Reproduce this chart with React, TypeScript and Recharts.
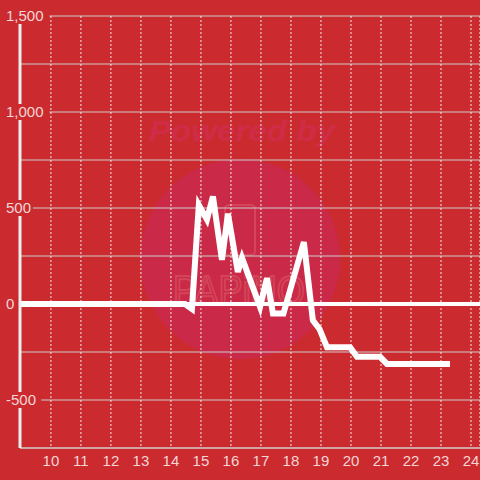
import React from "react";
import {
  ComposedChart,
  Line,
  XAxis,
  YAxis,
  CartesianGrid,
  ReferenceLine,
} from "recharts";

const hours = [8.97, 14.47, 14.7, 14.93, 15.2, 15.4, 15.7, 15.9, 16.23, 16.37, 16.97, 17.2, 17.4, 17.75, 18.43, 18.73, 18.95, 19.2, 19.97, 20.2, 20.97, 21.2, 23.3];
const values = [0, 0, -26, 515, 440, 560, 230, 470, 167, 240, -15, 135, -50, -50, 323, -85, -130, -225, -225, -275, -275, -312, -312];

const xTicks = [10, 11, 12, 13, 14, 15, 16, 17, 18, 19, 20, 21, 22, 23, 24];
const yTicks = [-750, -500, -250, 0, 250, 500, 750, 1000, 1250, 1500];
const yLabelTicks = [-500, 0, 500, 1000, 1500];

const data = hours.map((h, i) => ({ h, v: values[i] }));

const BG = "#cb2a2f";
const LABEL = "#f4d6d6";
const FONT = "'Liberation Sans', Arial, sans-serif";

const fmt = (v: number) => v.toLocaleString("en-US");

const YTick = (props: any) => {
  const { y, payload } = props;
  const val = payload.value;
  if (!yLabelTicks.includes(val)) return null;
  const label = val < 0 ? "-" + fmt(-val) : fmt(val);
  const w = label.length * 8.3 + 4;
  return (
    <g>
      <rect x={1} y={y - 8} width={w + 3} height={16} fill={BG} />
      <text
        x={6}
        y={y}
        dy="0.35em"
        fill={LABEL}
        fontSize={15}
        fontFamily={FONT}
        textAnchor="start"
      >
        {label}
      </text>
    </g>
  );
};

const XTick = (props: any) => {
  const { x, payload } = props;
  return (
    <text
      x={x}
      y={461}
      dy="0.35em"
      fill={LABEL}
      fontSize={15}
      fontFamily={FONT}
      textAnchor="middle"
    >
      {payload.value}
    </text>
  );
};

export default function App() {
  return (
    <div
      style={{
        position: "absolute",
        left: 0,
        top: 0,
        width: 480,
        height: 480,
        background: BG,
        overflow: "hidden",
      }}
    >
      <svg
        width={480}
        height={480}
        style={{ position: "absolute", left: 0, top: 0 }}
      >
        <text
          x={242}
          y={141}
          textAnchor="middle"
          fontSize={29}
          fontWeight="bold"
          fontStyle="italic"
          fontFamily={FONT}
          fill="#cf2d47"
          textLength={186}
          lengthAdjust="spacingAndGlyphs"
        >
          Powered by
        </text>
        <circle cx={240} cy={259} r={100} fill="#ca2a47" />
        <rect
          x={225}
          y={205}
          width={30}
          height={50}
          rx={4}
          fill="none"
          stroke="#d4455a"
          strokeWidth={2}
        />
        <text
          x={239}
          y={305}
          textAnchor="middle"
          fontSize={42}
          fontFamily={FONT}
          fill="none"
          stroke="#d4455a"
          strokeWidth={2}
          textLength={132}
          lengthAdjust="spacingAndGlyphs"
        >
          PAPiNO
        </text>
      </svg>
      <div style={{ position: "absolute", left: 0, top: 0 }}>
        <ComposedChart
          width={480}
          height={480}
          data={data}
          margin={{ top: 16, right: 0, bottom: 0, left: 0 }}
        >
          <CartesianGrid
            horizontal={true}
            vertical={false}
            stroke="#cfcfcf"
            strokeWidth={1}
          />
          <CartesianGrid
            horizontal={false}
            vertical={true}
            stroke="#eeeeee"
            strokeWidth={1}
            strokeDasharray="2 2"
          />
          <XAxis
            dataKey="h"
            type="number"
            domain={[8.97, 24.3]}
            allowDataOverflow
            ticks={xTicks}
            interval={0}
            height={32}
            axisLine={{ stroke: "#cfcfcf", strokeWidth: 1 }}
            tickLine={false}
            tick={<XTick />}
          />
          <YAxis
            type="number"
            domain={[-750, 1500]}
            ticks={yTicks}
            interval={0}
            width={20}
            axisLine={{ stroke: "#eeeeee", strokeWidth: 3 }}
            tickLine={false}
            tick={<YTick />}
          />
          <ReferenceLine y={0} stroke="#ffffff" strokeWidth={4} />
          <Line
            dataKey="v"
            type="linear"
            stroke="#ffffff"
            strokeWidth={6}
            dot={false}
            activeDot={false}
            isAnimationActive={false}
          />
        </ComposedChart>
      </div>
    </div>
  );
}
